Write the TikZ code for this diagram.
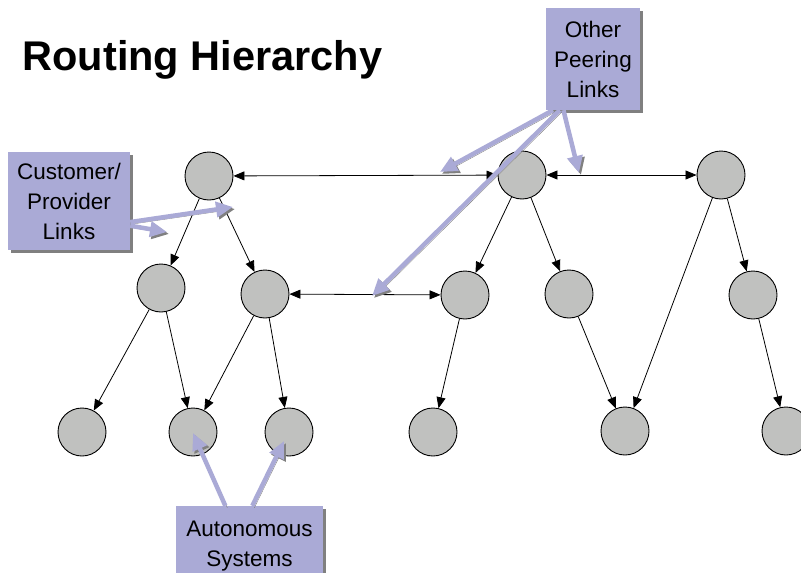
\documentclass[tikz,border=0pt]{standalone}
\usepackage{fontspec}
\setmainfont{Liberation Sans}
\usetikzlibrary{arrows.meta,shadows}
\definecolor{asgray}{RGB}{192,193,191}
\definecolor{notefill}{RGB}{170,170,214}
\definecolor{shadegray}{RGB}{128,128,128}

\begin{document}
\begin{tikzpicture}[
    x=1pt, y=-1pt,
    as/.style={circle, draw, line width=0.9pt, fill=asgray, minimum size=48pt, inner sep=0pt},
    link/.style={line width=0.8pt, -{Triangle[length=11pt,width=9pt]}},
    peer/.style={line width=0.8pt, {Triangle[length=11pt,width=9pt]}-{Triangle[length=11pt,width=9pt]}},
    note/.style={fill=notefill, align=center, inner sep=0pt, font=\fontsize{22.5}{30}\selectfont,
        drop shadow={shadow xshift=3pt, shadow yshift=-3pt, fill=shadegray, opacity=1}},
    pointer/.style={line width=4.5pt, draw=notefill, -{Triangle[length=17pt,width=15pt]},
        preaction={draw=shadegray, transform canvas={shift={(2pt,-2pt)}}}},
]
\useasboundingbox (0,0) rectangle (801,573);

\node[font=\fontsize{41.5}{44}\selectfont\bfseries, anchor=base west] (title) at (19,70) {Routing Hierarchy};

% the autonomous systems
\node[as] (a) at (209,176) {};
\node[as] (b) at (522,175) {};
\node[as] (c) at (721,175) {};
\node[as] (d) at (161,288) {};
\node[as] (e) at (265,294) {};
\node[as] (f) at (465,295) {};
\node[as] (g) at (569,294) {};
\node[as] (h) at (753,295) {};
\node[as] (i) at (82,432) {};
\node[as] (j) at (193,432) {};
\node[as] (k) at (289,432) {};
\node[as] (l) at (433,432) {};
\node[as] (m) at (625,431) {};
\node[as] (n) at (786,431) {};

\draw[peer] (a) -- (b);
\draw[peer] (b) -- (c);
\draw[peer] (e) -- (f);
\foreach \u/\v in {a/d, a/e, b/f, b/g, c/m, c/h, d/i, d/j, e/j, e/k, f/l, g/m, h/n}
  \draw[link] (\u) -- (\v);

% callouts
\node[note, minimum width=122pt, minimum height=98pt] (cust) at (69,201) {Customer/\\Provider\\Links};
\node[note, minimum width=94pt, minimum height=102pt] (other) at (593,59) {Other\\Peering\\Links};
\node[note, minimum width=147pt, minimum height=80pt] (auto) at (249.5,546) {Autonomous\\Systems};

\coordinate (cp1) at (233,207);
\coordinate (cp2) at (167,232);
\coordinate (op1) at (440,172);
\coordinate (op2) at (372,296);
\coordinate (op3) at (579,173);
\coordinate (ap1) at (193,433);
\coordinate (ap2) at (284,441);

\draw[pointer] (cust.-19) -- (cp1);
\draw[pointer] (cust.-22) -- (cp2);
\draw[pointer] (other.-128) -- (op1);
\draw[pointer] (other.-123) -- (op2);
\draw[pointer] (other.-120) -- (op3);
\draw[pointer] (auto.121) -- (ap1);
\draw[pointer] (auto.86) -- (ap2);
\end{tikzpicture}
\end{document}
